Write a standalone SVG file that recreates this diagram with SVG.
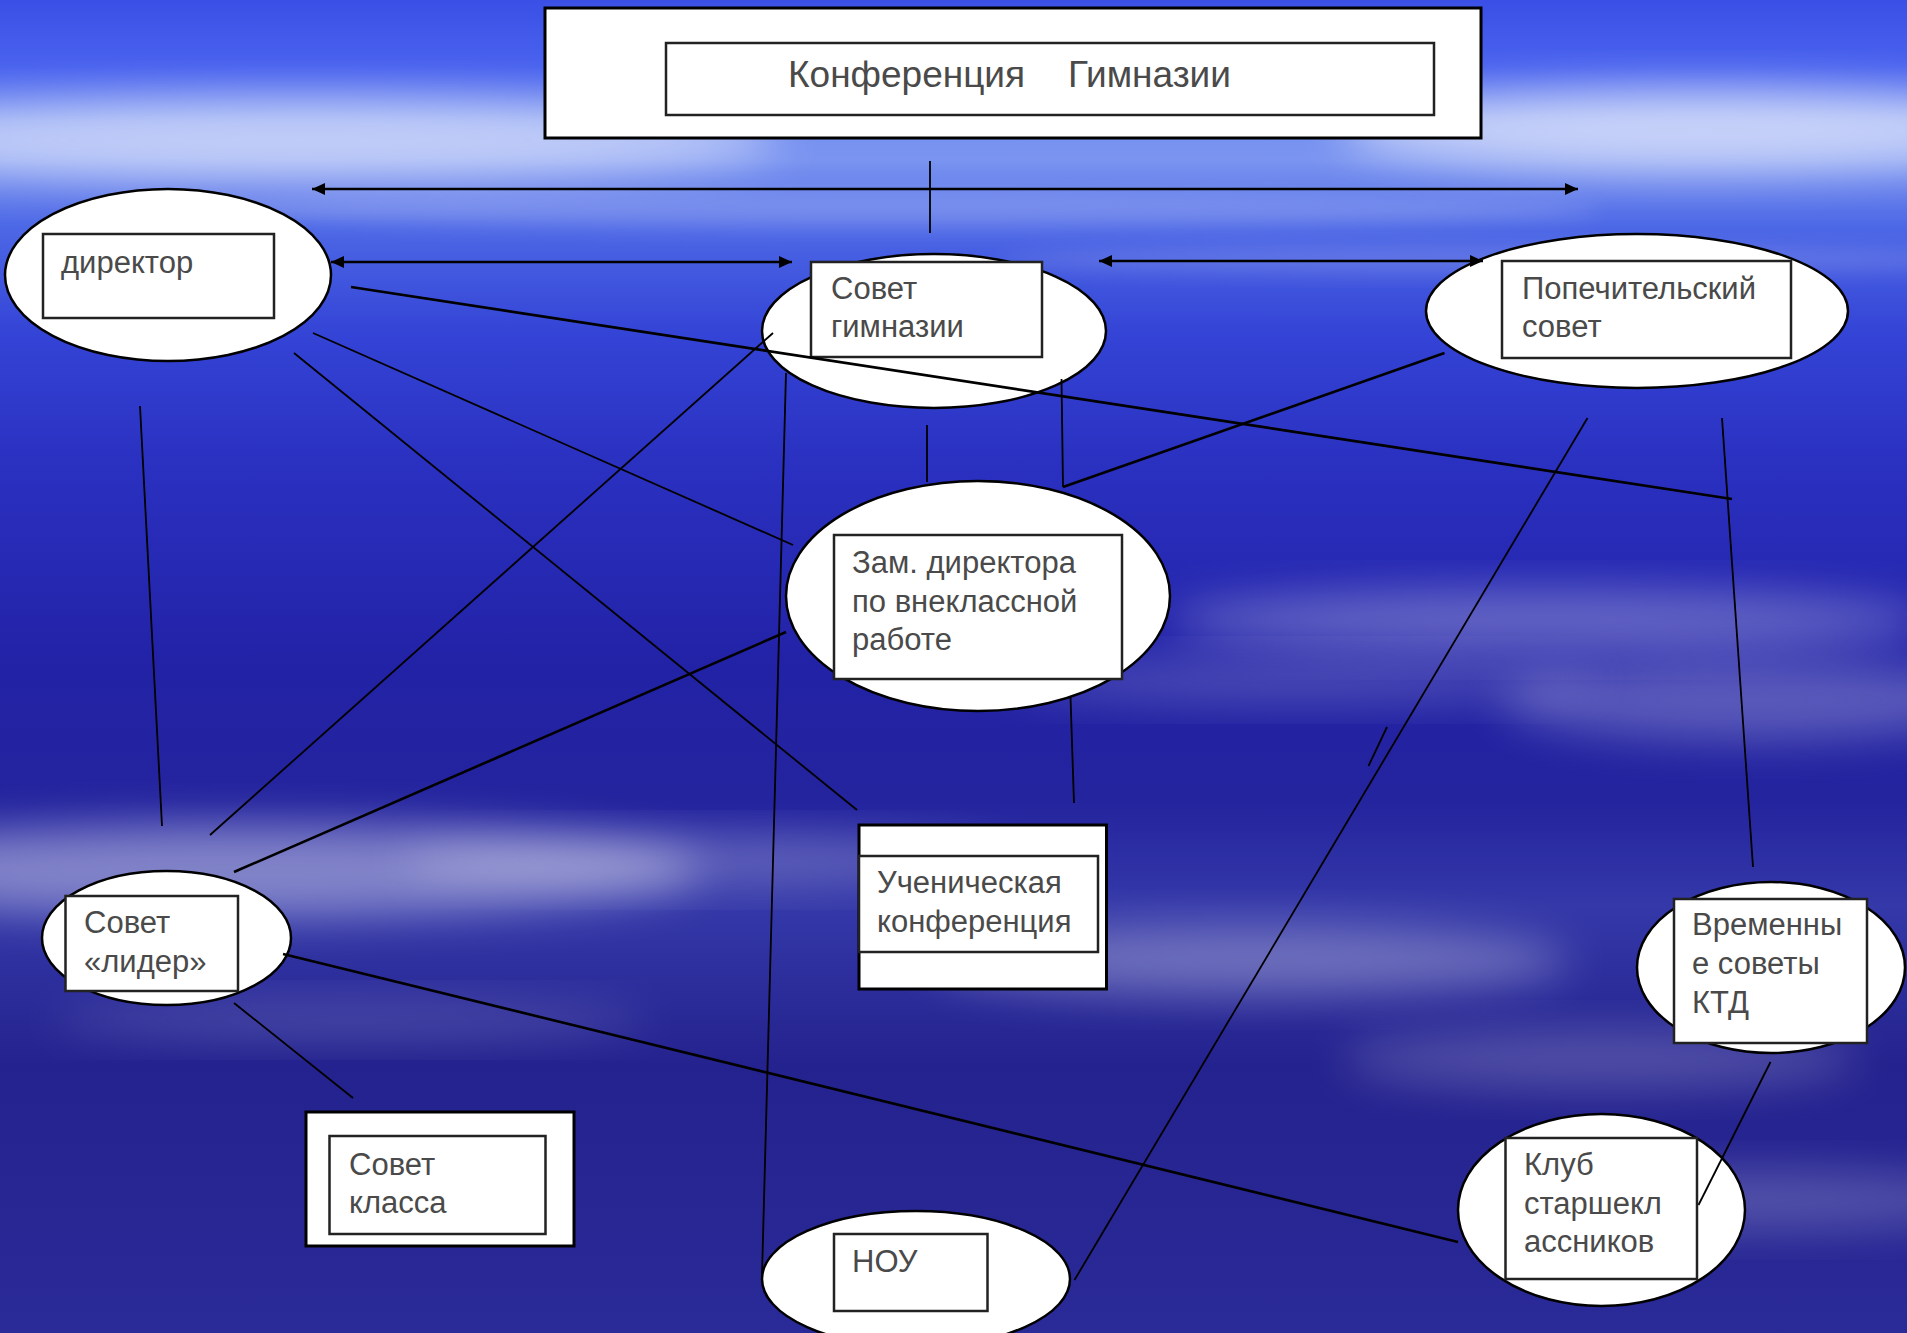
<svg xmlns="http://www.w3.org/2000/svg" width="1907" height="1333" viewBox="0 0 1907 1333">
<defs>
<linearGradient id="sky" x1="0" y1="0" x2="0" y2="1">
<stop offset="0" stop-color="#3a4fe6"/>
<stop offset="0.05" stop-color="#4a63ee"/>
<stop offset="0.09" stop-color="#7590f0"/>
<stop offset="0.12" stop-color="#7a94f0"/>
<stop offset="0.17" stop-color="#4d68e6"/>
<stop offset="0.25" stop-color="#3444d6"/>
<stop offset="0.35" stop-color="#2a30c0"/>
<stop offset="0.5" stop-color="#2222a6"/>
<stop offset="0.6" stop-color="#24249e"/>
<stop offset="0.68" stop-color="#3438a8"/>
<stop offset="0.8" stop-color="#24228e"/>
<stop offset="1" stop-color="#2a2a98"/>
</linearGradient>
<filter id="blur" x="-50%" y="-50%" width="200%" height="200%"><feGaussianBlur stdDeviation="22"/></filter>
<filter id="blur2" x="-50%" y="-50%" width="200%" height="200%"><feGaussianBlur stdDeviation="10"/></filter>
<marker id="arr" markerUnits="userSpaceOnUse" markerWidth="14" markerHeight="12" refX="13" refY="6" orient="auto-start-reverse">
<path d="M0,0 L13,6 L0,12 z" fill="#000"/>
</marker>
<style>
.outer{fill:#fff;stroke:#000;stroke-width:3}
.ell{fill:#fff;stroke:#000;stroke-width:2.5}
.inner{fill:#fff;stroke:#222;stroke-width:2.5}
.lbl{font-family:"Liberation Sans",Arial,sans-serif;font-size:31px;fill:#4a4a4a}
.title{font-family:"Liberation Sans",Arial,sans-serif;font-size:37px;fill:#4a4a4a}
.ln{stroke:#000;stroke-width:1.8;fill:none}
.lnb{stroke:#000;stroke-width:2.6;fill:none}
</style>
</defs>
<rect x="0" y="0" width="1907" height="1333" fill="url(#sky)"/>
<g id="clouds" fill="#fff">
<ellipse cx="300" cy="140" rx="480" ry="40" opacity="0.55" filter="url(#blur)"/>
<ellipse cx="1700" cy="130" rx="360" ry="40" opacity="0.6" filter="url(#blur)"/>
<ellipse cx="900" cy="210" rx="700" ry="18" opacity="0.18" filter="url(#blur2)"/>
<ellipse cx="1500" cy="260" rx="500" ry="14" opacity="0.15" filter="url(#blur2)"/>
<ellipse cx="1550" cy="620" rx="380" ry="30" opacity="0.3" filter="url(#blur)"/>
<ellipse cx="1750" cy="700" rx="250" ry="40" opacity="0.25" filter="url(#blur)"/>
<ellipse cx="1300" cy="680" rx="300" ry="22" opacity="0.2" filter="url(#blur)"/>
<ellipse cx="250" cy="870" rx="450" ry="45" opacity="0.4" filter="url(#blur)"/>
<ellipse cx="700" cy="860" rx="300" ry="25" opacity="0.25" filter="url(#blur)"/>
<ellipse cx="1250" cy="960" rx="320" ry="35" opacity="0.3" filter="url(#blur)"/>
<ellipse cx="1600" cy="1060" rx="260" ry="30" opacity="0.2" filter="url(#blur)"/>
<ellipse cx="1750" cy="1200" rx="250" ry="30" opacity="0.2" filter="url(#blur)"/>
<ellipse cx="350" cy="1020" rx="300" ry="20" opacity="0.15" filter="url(#blur)"/>
</g>
<g id="node-konferencia">
<rect class="outer" x="545" y="8" width="936" height="130"/>
<rect class="inner" x="666" y="43" width="768" height="72"/>
<text class="title" y="87"><tspan x="788">Конференция</tspan><tspan x="1068">Гимназии</tspan></text>
</g>
<g id="node-direktor">
<ellipse class="ell" cx="168" cy="275" rx="163" ry="86"/>
<rect class="inner" x="43" y="234" width="231" height="84"/>
<text class="lbl" x="61" y="273">директор</text>
</g>
<g id="node-sovet-gimnazii">
<ellipse class="ell" cx="934" cy="331" rx="172" ry="77"/>
<rect class="inner" x="811" y="262" width="231" height="95"/>
<text class="lbl" x="831" y="299">Совет</text>
<text class="lbl" x="831" y="337">гимназии</text>
</g>
<g id="node-popechitelsky">
<ellipse class="ell" cx="1637" cy="311" rx="211" ry="77"/>
<rect class="inner" x="1502" y="261" width="289" height="97"/>
<text class="lbl" x="1522" y="299">Попечительский</text>
<text class="lbl" x="1522" y="337">совет</text>
</g>
<g id="node-zam">
<ellipse class="ell" cx="978" cy="596" rx="192" ry="115"/>
<rect class="inner" x="834" y="535" width="288" height="144"/>
<text class="lbl" x="852" y="573">Зам. директора</text>
<text class="lbl" x="852" y="612">по внеклассной</text>
<text class="lbl" x="852" y="650">работе</text>
</g>
<g id="node-uchenicheskaya">
<rect class="outer" x="859" y="825" width="247.5" height="164"/>
<rect class="inner" x="859" y="856" width="239" height="96"/>
<text class="lbl" x="877" y="893">Ученическая</text>
<text class="lbl" x="877" y="932">конференция</text>
</g>
<g id="node-lider">
<ellipse class="ell" cx="166.5" cy="938" rx="124.5" ry="67"/>
<rect class="inner" x="65.5" y="896" width="172.5" height="95"/>
<text class="lbl" x="84" y="933">Совет</text>
<text class="lbl" x="84" y="972">«лидер»</text>
</g>
<g id="node-sovet-klassa">
<rect class="outer" x="306" y="1112" width="268" height="134"/>
<rect class="inner" x="329.5" y="1136" width="216" height="98"/>
<text class="lbl" x="349" y="1175">Совет</text>
<text class="lbl" x="349" y="1213">класса</text>
</g>
<g id="node-nou">
<ellipse class="ell" cx="916" cy="1279" rx="154" ry="68"/>
<rect class="inner" x="834" y="1234" width="153.5" height="77"/>
<text class="lbl" x="852" y="1272">НОУ</text>
</g>
<g id="node-vremennye">
<ellipse class="ell" cx="1771" cy="967.5" rx="134" ry="85.5"/>
<rect class="inner" x="1674" y="899" width="193" height="144"/>
<text class="lbl" x="1692" y="935">Временны</text>
<text class="lbl" x="1692" y="974">е советы</text>
<text class="lbl" x="1692" y="1013">КТД</text>
</g>
<g id="node-klub">
<ellipse class="ell" cx="1601.5" cy="1210" rx="143.5" ry="96"/>
<rect class="inner" x="1505.5" y="1138" width="191.5" height="141"/>
<text class="lbl" x="1524" y="1175">Клуб</text>
<text class="lbl" x="1524" y="1214">старшекл</text>
<text class="lbl" x="1524" y="1252">ассников</text>
</g>
<g id="connectors">
<line class="ln" x1="930" y1="161" x2="930" y2="233"/>
<line class="lnb" x1="312" y1="189" x2="1578" y2="189" marker-start="url(#arr)" marker-end="url(#arr)"/>
<line class="lnb" x1="331" y1="262" x2="792" y2="262" marker-start="url(#arr)" marker-end="url(#arr)"/>
<line class="lnb" x1="1099" y1="261" x2="1483" y2="261" marker-start="url(#arr)" marker-end="url(#arr)"/>
<line class="ln" x1="294" y1="353" x2="857" y2="810"/>
<line class="ln" x1="313" y1="333" x2="793" y2="545"/>
<line class="lnb" x1="351" y1="287" x2="1732" y2="499"/>
<line class="ln" x1="140" y1="406" x2="162" y2="826"/>
<line class="ln" x1="773" y1="333" x2="210" y2="835"/>
<line class="ln" x1="786" y1="373" x2="762" y2="1275"/>
<line class="ln" x1="927" y1="425" x2="927" y2="482"/>
<line class="ln" x1="1061.5" y1="379" x2="1063" y2="487"/>
<line class="lnb" x1="1444.5" y1="353" x2="1063" y2="487"/>
<line class="ln" x1="1587.5" y1="418" x2="1074.5" y2="1280"/>
<line class="ln" x1="1387" y1="727" x2="1368.5" y2="766"/>
<line class="ln" x1="1722" y1="418" x2="1753" y2="867"/>
<line class="lnb" x1="786" y1="632" x2="234" y2="872"/>
<line class="ln" x1="1070.5" y1="697" x2="1074" y2="803"/>
<line class="lnb" x1="283" y1="954" x2="1458" y2="1242"/>
<line class="ln" x1="234" y1="1003" x2="353" y2="1098"/>
<line class="ln" x1="1770.5" y1="1062" x2="1698.5" y2="1205"/>
</g>
</svg>
